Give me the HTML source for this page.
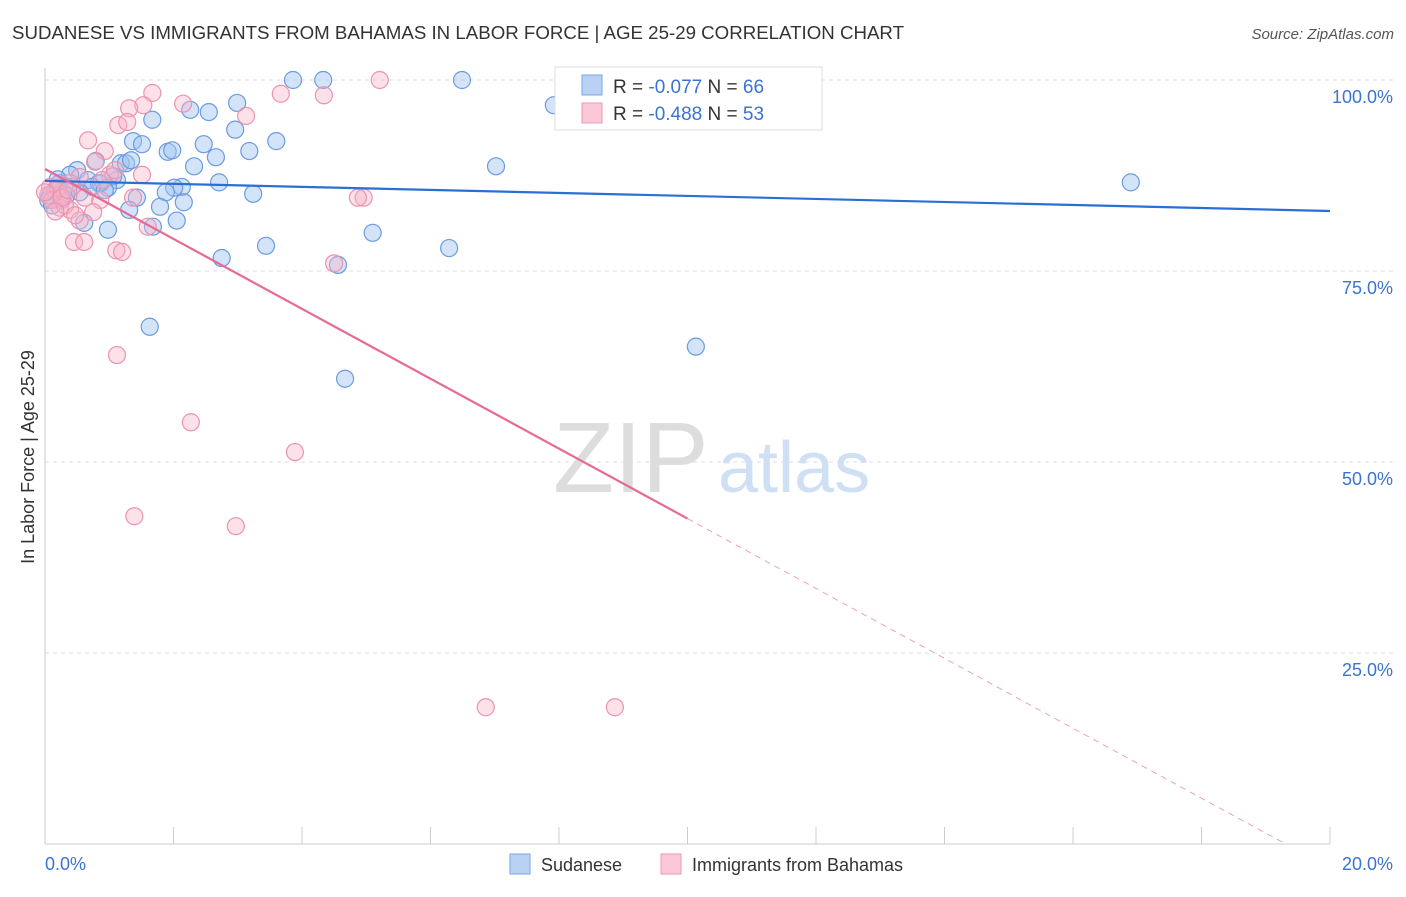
<!DOCTYPE html>
<html><head><meta charset="utf-8"><style>
body{margin:0;background:#fff;font-family:"Liberation Sans",sans-serif;}
svg text{font-family:"Liberation Sans",sans-serif;}
</style></head><body>
<svg id="chart" width="1406" height="892" xmlns="http://www.w3.org/2000/svg">
<text x="12" y="39" font-size="18" fill="#333" textLength="892" lengthAdjust="spacingAndGlyphs">SUDANESE VS IMMIGRANTS FROM BAHAMAS IN LABOR FORCE | AGE 25-29 CORRELATION CHART</text>
<text x="1394" y="39" font-size="15" fill="#555" font-style="italic" text-anchor="end">Source: ZipAtlas.com</text>
<g id="grid"></g>
<g>
<text x="553" y="492" font-size="100" font-family="Liberation Serif" fill="#ddd">ZIP</text>
<text x="718" y="492" font-size="72" fill="#cfe0f4">atlas</text>
</g>
<g id="axes"></g>
<g id="pts"></g>
<g id="trend"></g>
<text transform="translate(34,457) rotate(-90)" font-size="18" fill="#333" text-anchor="middle">In Labor Force | Age 25-29</text>
<g>
<rect x="555" y="67" width="267" height="63" fill="#fff" stroke="#ddd"/>
<rect x="582" y="75" width="20" height="20" fill="#b9d2f4" stroke="#7aa6e4"/>
<rect x="582" y="103" width="20" height="20" fill="#fbc8d7" stroke="#ee9ab5"/>
<text x="613" y="93" font-size="19" fill="#333">R = <tspan fill="#3b74d0">-0.077</tspan>   N = <tspan fill="#3b74d0">66</tspan></text>
<text x="613" y="120" font-size="19" fill="#333">R = <tspan fill="#3b74d0">-0.488</tspan>   N = <tspan fill="#3b74d0">53</tspan></text>
</g>
<g>
<rect x="510" y="854" width="20" height="20" fill="#b9d2f4" stroke="#7aa6e4"/>
<text x="541" y="871" font-size="18" fill="#333">Sudanese</text>
<rect x="661" y="854" width="20" height="20" fill="#fbc8d7" stroke="#ee9ab5"/>
<text x="692" y="871" font-size="18" fill="#333">Immigrants from Bahamas</text>
</g>
</svg>
<script>
const blueX=[3.86,4.33,6.49,7.92,1.67,2.55,2.26,2.99,2.96,3.60,2.47,1.37,1.51,1.91,1.98,2.66,3.18,7.02,2.32,1.18,1.26,1.34,0.79,0.50,0.39,0.67,0.87,1.12,1.06,2.71,16.9,2.13,2.01,1.88,3.24,1.43,0.98,0.84,2.16,1.79,1.31,0.61,1.68,2.05,5.10,0.98,3.44,6.29,2.75,4.56,1.63,10.13,4.67,0.23,0.30,0.08,0.05,0.16,0.42,0.20,0.73,0.93,0.33,0.11,0.54,0.26];
const blueY=[100,100,100,96.7,94.8,95.8,96.1,97.0,93.5,92.0,91.6,92.0,91.6,90.6,90.8,89.9,90.7,88.7,88.7,89.1,89.1,89.5,89.4,88.2,87.6,86.9,86.5,86.9,87.4,86.6,86.6,86.0,85.9,85.3,85.1,84.6,85.9,86.5,84.0,83.4,83.0,81.3,80.8,81.6,80.0,80.4,78.3,78.0,76.7,75.8,67.7,65.1,60.9,86.5,86.1,84.9,84.3,85.6,86.0,87.0,86.0,85.6,84.9,83.6,85.3,84.3];
const pinkX=[5.21,1.67,1.53,1.31,2.15,3.67,4.34,3.13,1.14,1.28,0.67,0.93,0.78,1.51,1.01,0.54,0.39,0.23,0.62,0.86,1.37,4.96,4.87,0.75,0.39,0.23,0.54,1.60,0.45,0.61,1.11,1.20,4.50,1.12,2.27,3.89,1.39,2.97,6.86,8.87,0.08,0.16,0.05,0.11,0.20,0.31,0.0,0.47,0.26,0.36,0.16,0.89,1.09];
const pinkY=[100,98.3,96.7,96.3,96.9,98.2,98.0,95.3,94.1,94.5,92.1,90.7,89.3,87.6,87.6,87.3,86.5,84.9,84.6,84.3,84.6,84.6,84.6,82.7,83.0,83.3,81.6,80.8,78.8,78.8,77.7,77.5,76.0,64.0,55.2,51.3,42.9,41.6,17.9,17.9,86.0,85.6,84.9,84.3,85.9,83.6,85.3,82.3,84.6,85.6,82.8,86.9,88.2];
const blueTrend=[86.8,82.85];
const pinkTrend=[88.35,-4.575];
const yTicks=[100,75,50,25];
const yTickLabels=["100.0%","75.0%","50.0%","25.0%"];
const xTicks=[0,2,4,6,8,10,12,14,16,18,20];

const NS="http://www.w3.org/2000/svg";
const xs=v=>45+v*64.25, ys=v=>844-v*7.64;
function mk(tag,attrs,parent){const e=document.createElementNS(NS,tag);for(const k in attrs)e.setAttribute(k,attrs[k]);parent.appendChild(e);return e;}
const grid=document.getElementById('grid'),axes=document.getElementById('axes'),pts=document.getElementById('pts'),trend=document.getElementById('trend');
yTicks.forEach((t,i)=>{
 const l=mk('line',{x1:45,x2:1393,y1:ys(t),y2:ys(t),stroke:'#ddd','stroke-dasharray':'4,4'},grid);
 
 
 const tx=mk('text',{x:1393,y:ys(t)+23,'font-size':18,fill:'#3b74d0','text-anchor':'end'},grid);
 tx.textContent=yTickLabels[i];
 
 
});
const ax=mk('line',{x1:45,x2:1330,y1:844,y2:844,stroke:'#ccc'},axes);


const ay=mk('line',{x1:45,x2:45,y1:68,y2:844,stroke:'#ccc'},axes);


xTicks.forEach(t=>{
 const l=mk('line',{x1:xs(t),x2:xs(t),y1:827,y2:844,stroke:'#ccc'},axes);
 
 
});
const xl0=mk('text',{x:45,y:870,'font-size':18,fill:'#3b74d0'},axes);xl0.textContent='0.0%';


const xl1=mk('text',{x:1393,y:870,'font-size':18,fill:'#3b74d0','text-anchor':'end'},axes);xl1.textContent='20.0%';


blueX.forEach((x,i)=>{
 const c=mk('circle',{cx:xs(x),cy:ys(blueY[i]),r:8.5,fill:'rgba(160,196,240,0.45)',stroke:'#6b9be0','stroke-width':1.2},pts);
 
 
});
pinkX.forEach((x,i)=>{
 const c=mk('circle',{cx:xs(x),cy:ys(pinkY[i]),r:8.5,fill:'rgba(248,180,200,0.4)',stroke:'#ec93b0','stroke-width':1.2},pts);
 
 
});
const bl=mk('line',{x1:xs(0),y1:ys(blueTrend[0]),x2:xs(20),y2:ys(blueTrend[1]),stroke:'#2a6fd6','stroke-width':2.2},trend);


const pf=x=>pinkTrend[0]+pinkTrend[1]*x;
const pl=mk('line',{x1:xs(0),y1:ys(pf(0)),x2:xs(10),y2:ys(pf(10)),stroke:'#e66a95','stroke-width':2.2},trend);


const xEnd=-pinkTrend[0]/pinkTrend[1];
const pd=mk('line',{x1:xs(10),y1:ys(pf(10)),x2:xs(xEnd),y2:ys(0),stroke:'#eea0ba','stroke-width':1,'stroke-dasharray':'6,5'},trend);


</script>
</body></html>
